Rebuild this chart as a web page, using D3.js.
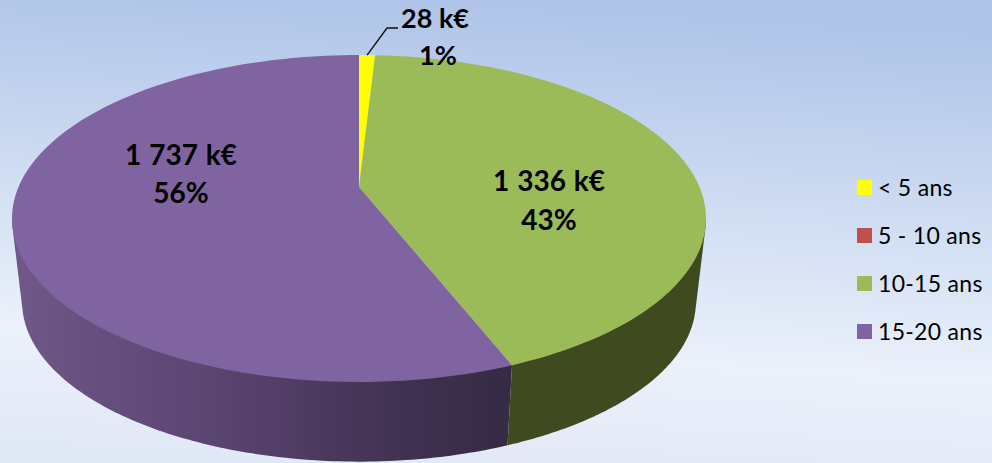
<!DOCTYPE html>
<html><head><meta charset="utf-8">
<script src="https://cdnjs.cloudflare.com/ajax/libs/d3/7.8.5/d3.min.js"></script>
<style>html,body{margin:0;padding:0;background:#fff;overflow:hidden}svg{display:block}text{font-family:Lato,"Open Sans",sans-serif}</style>
</head><body><svg id="c" width="992" height="463"></svg>
<script>
const categories=["< 5 ans","5 - 10 ans","10-15 ans","15-20 ans"];
const values=[28,0,1336,1737];
const valueLabels=["28 k€","","1 336 k€","1 737 k€"];
const percentLabels=["1%","","43%","56%"];
const colors=["#ffff00","#c0504d","#9bbb59","#8064a2"];
const sideColors=["#8f8f00","#6b2d2b","#404a20","#6f5890"];

const svg=d3.select("#c");
const defs=svg.append("defs");
const bg=defs.append("linearGradient").attr("id","bg").attr("x1",0.56).attr("y1",0).attr("x2",0.44).attr("y2",1);
[[0,"#adc3e8"],[0.42,"#cfdcf2"],[0.76,"#ebf1fb"],[1,"#e2e9f6"]].forEach(s=>bg.append("stop").attr("offset",s[0]).attr("stop-color",s[1]));
const sg=defs.append("linearGradient").attr("id","purpleSide").attr("gradientUnits","userSpaceOnUse").attr("x1",12).attr("x2",510).attr("y1",0).attr("y2",0);
[[0,"#705889"],[0.18,"#664e7f"],[0.38,"#5c4673"],[0.58,"#4f3b63"],[0.8,"#3f3150"],[1,"#352b45"]].forEach(s=>sg.append("stop").attr("offset",s[0]).attr("stop-color",s[1]));
svg.append("rect").attr("width",992).attr("height",463).attr("fill","url(#bg)");

// Perspective projection of the flat disc on to the screen
const k=0.1927;
function project(a,o){
  const u=Math.sin(a),v=-Math.cos(a),d=1-k*v;
  return [o.cx+o.bx*u/d,o.cy+o.by*v/d];
}
const topDisc={cx:359,cy:187,bx:340.5,by:157.4};
const baseDisc={cx:359,cy:271.5,bx:330.5,by:153.5};
const line=d3.line();
const arcs=d3.pie().sort(null).value(d=>d)(values);
const samples=(a,b)=>d3.range(0,121).map(i=>a+(b-a)*i/120);

// Only the front of the wall shows; the hull gives its straight silhouette edges
const sides=svg.append("g");
const frontStart=Math.PI*0.56, frontEnd=Math.PI*1.44;
[...arcs.keys()].filter(i=>arcs[i].value>0).reverse().forEach(i=>{
  const a=arcs[i];
  const s=Math.max(a.startAngle,frontStart), e=Math.min(a.endAngle,frontEnd);
  if(s>=e)return;
  const as=samples(s,e);
  const hull=d3.polygonHull(as.map(t=>project(t,topDisc)).concat(as.map(t=>project(t,baseDisc))));
  sides.append("path").attr("d",line(hull)+"Z").attr("fill",i===3?"url(#purpleSide)":sideColors[i]);
});
arcs.forEach((a,i)=>{
  if(a.value<=0)return;
  const pts=[[topDisc.cx,topDisc.cy]].concat(samples(a.startAngle,a.endAngle).map(t=>project(t,topDisc)));
  svg.append("path").attr("d",line(pts)+"Z").attr("fill",colors[i]);
});

// Leader line of the smallest slice
const leaderStart=project(arcs[0].startAngle+(arcs[0].endAngle-arcs[0].startAngle)/2,topDisc);
svg.append("path").attr("d",line([leaderStart,[387,28],[398,28]])).attr("fill","none").attr("stroke","#111").attr("stroke-width",1.4);

// Data labels
const labelAt=[[435,438],[0,0],[549,549],[181,181]];
const labelY=[[28,65],[0,0],[191,230],[165,203]];
const labelSize=[27,0,28,28];
const labelGap=[0,0,1,1];
valueLabels.forEach((t,i)=>{
  if(!t)return;
  svg.append("text").attr("x",labelAt[i][0]).attr("y",labelY[i][0]).attr("text-anchor","middle").attr("font-size",labelSize[i]).attr("word-spacing",labelGap[i]).attr("font-weight",700).attr("fill","#000").text(t);
  svg.append("text").attr("x",labelAt[i][1]).attr("y",labelY[i][1]).attr("text-anchor","middle").attr("font-size",labelSize[i]).attr("font-weight",700).attr("fill","#000").text(percentLabels[i]);
});

// Legend
const ly=d3.scalePoint().domain(categories).range([187.5,331.5]);
const lg=svg.append("g");
categories.forEach((c,i)=>{
  lg.append("rect").attr("x",857).attr("y",ly(c)-7.5).attr("width",15).attr("height",15).attr("fill",colors[i]);
  lg.append("text").attr("x",878).attr("y",ly(c)+8).attr("font-size",23).attr("letter-spacing",0.3).attr("fill","#000").text(c);
});
</script></body></html>
